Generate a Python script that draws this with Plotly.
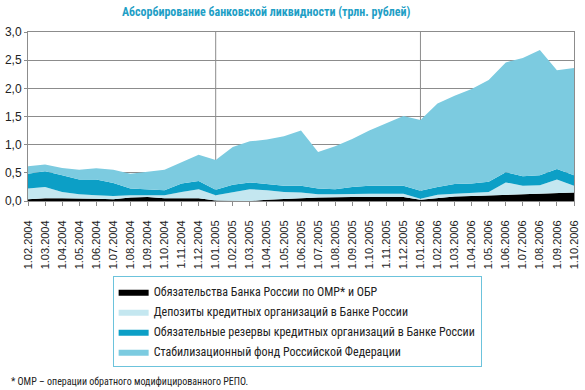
import plotly.graph_objects as go

dates = ["1.02.2004", "1.03.2004", "1.04.2004", "1.05.2004", "1.06.2004", "1.07.2004",
         "1.08.2004", "1.09.2004", "1.10.2004", "1.11.2004", "1.12.2004", "1.01.2005",
         "1.02.2005", "1.03.2005", "1.04.2005", "1.05.2005", "1.06.2005", "1.07.2005",
         "1.08.2005", "1.09.2005", "1.10.2005", "1.11.2005", "1.12.2005", "1.01.2006",
         "1.02.2006", "1.03.2006", "1.04.2006", "1.05.2006", "1.06.2006", "1.07.2006",
         "1.08.2006", "1.09.2006", "1.10.2006"]

# trillion roubles (individual layer values, stacked in this order)
omr_obr = [0.03, 0.05, 0.05, 0.05, 0.04, 0.03, 0.06, 0.07, 0.05, 0.05, 0.05, 0.01,
           0.00, 0.00, 0.02, 0.04, 0.05, 0.06, 0.07, 0.07, 0.07, 0.07, 0.07, 0.02,
           0.05, 0.08, 0.09, 0.10, 0.11, 0.13, 0.14, 0.15, 0.15]
deposits = [0.19, 0.20, 0.11, 0.07, 0.06, 0.06, 0.04, 0.03, 0.05, 0.11, 0.16, 0.09,
            0.16, 0.21, 0.17, 0.12, 0.10, 0.06, 0.05, 0.06, 0.06, 0.06, 0.06, 0.02,
            0.06, 0.05, 0.05, 0.06, 0.22, 0.14, 0.14, 0.23, 0.12]
reserves = [0.265, 0.28, 0.295, 0.26, 0.28, 0.23, 0.12, 0.10, 0.09, 0.15, 0.145, 0.10,
            0.13, 0.12, 0.11, 0.11, 0.12, 0.10, 0.09, 0.12, 0.14, 0.14, 0.14, 0.14,
            0.14, 0.17, 0.17, 0.18, 0.18, 0.17, 0.175, 0.19, 0.185]
stab_fund = [0.13, 0.12, 0.13, 0.175, 0.20, 0.235, 0.265, 0.315, 0.365, 0.38, 0.465, 0.53,
             0.67, 0.73, 0.79, 0.88, 0.98, 0.65, 0.76, 0.85, 0.98, 1.11, 1.24, 1.26,
             1.48, 1.57, 1.68, 1.81, 1.95, 2.10, 2.225, 1.75, 1.905]

names = ["Обязательства Банка России по ОМР* и ОБР",
         "Депозиты кредитных организаций в Банке России",
         "Обязательные резервы кредитных организаций в Банке России",
         "Стабилизационный фонд Российской Федерации"]
colors = ["#000000", "#c4e7f0", "#0c9fc6", "#7ccbe0"]
series = [omr_obr, deposits, reserves, stab_fund]

narrow = "Liberation Sans Narrow, Roboto Condensed, Arial Narrow, sans-serif"

fig = go.Figure()
for i, (name, vals, col) in enumerate(zip(names, series, colors)):
    fig.add_trace(go.Scatter(
        x=dates, y=vals, name=name, mode="lines", stackgroup="one",
        legendgroup=f"g{i}",
        line=dict(width=0, color=col), fillcolor=col,
    ))

grid_col = "#8c8c8c"
for d in ["1.01.2005", "1.01.2006"]:
    fig.add_shape(type="line", xref="x", yref="paper", x0=d, x1=d, y0=0, y1=1,
                  line=dict(color=grid_col, width=1), layer="below")

fig.update_layout(
    width=585, height=390,
    margin=dict(l=20, r=5, t=32, b=189),
    paper_bgcolor="white", plot_bgcolor="white",
    separators=", ",
    font=dict(family="Liberation Sans, Arial, sans-serif", size=12, color="#222"),
    title=dict(text="<b>Абсорбирование банковской ликвидности (трлн. рублей)</b>",
               x=0.455, xanchor="center", xref="container", y=0.969, yanchor="middle",
               font=dict(family=narrow, size=12, color="#1f9fc6")),
    xaxis=dict(type="category", range=[0, len(dates) - 1], tickangle=-90,
               ticks="outside", ticklen=4, tickcolor=grid_col, showgrid=False,
               showline=True, linecolor=grid_col, mirror=True, ticklabelstandoff=10,
               tickfont=dict(size=11, color="#222")),
    yaxis=dict(range=[0, 3.0], dtick=0.5, tickformat=".1f", ticks="outside", ticklen=3,
               tickcolor=grid_col, showgrid=True, gridcolor=grid_col, gridwidth=1,
               showline=True, linecolor=grid_col, mirror=True, zeroline=False,
               tickfont=dict(size=12, color="#222")),
    showlegend=True,
    legend=dict(traceorder="grouped", x=0.155, xanchor="left", y=-0.445, yanchor="top",
                bgcolor="white", bordercolor="#6cc3dc", borderwidth=1,
                font=dict(family=narrow, size=12, color="#222"),
                itemwidth=30, tracegroupgap=1),
)

fig.add_annotation(text="* ОМР – операции обратного модифицированного РЕПО.",
                   xref="paper", yref="paper", x=-0.035, y=-1.07, xanchor="left", yanchor="middle",
                   showarrow=False,
                   font=dict(family=narrow, size=10, color="#222"))

fig.write_html("out.html", config={"displayModeBar": False},
               post_script="document.body.style.margin='0';")
